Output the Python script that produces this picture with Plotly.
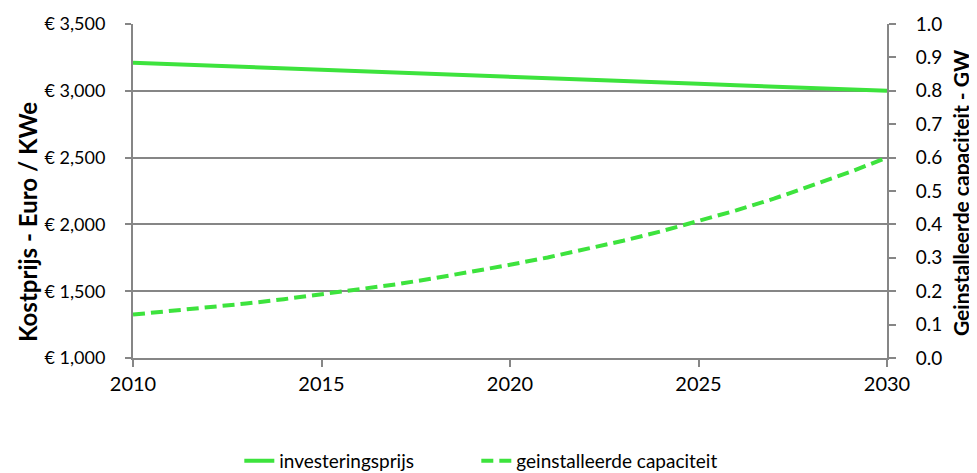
import plotly.graph_objects as go

years = list(range(2010, 2031))
investeringsprijs = [3210, 3199, 3189, 3178, 3168, 3157, 3147, 3136, 3126, 3115,
                     3105, 3094, 3084, 3073, 3063, 3052, 3042, 3031, 3021, 3010, 3000]
capaciteit = [0.13, 0.14, 0.151, 0.163, 0.176, 0.19, 0.205, 0.221, 0.239, 0.258,
              0.279, 0.301, 0.325, 0.351, 0.379, 0.41, 0.442, 0.477, 0.515, 0.556, 0.6]

GREEN = "#3DE33D"
GRAY = "#868686"
FONT = "Lato"

# page body has an 8px margin; plot area target: x 133..887, y 24..358 (page px)
W, H = 969, 465
L, R, T, B = 125, 90, 16, 115
PW = W - L - R
PH = H - T - B

fig = go.Figure()
fig.add_trace(go.Scatter(x=years, y=investeringsprijs, name="investeringsprijs",
                         mode="lines", line=dict(color=GREEN, width=4), yaxis="y",
                         legend="legend"))
fig.add_trace(go.Scatter(x=years, y=capaciteit, name="geinstalleerde capaciteit",
                         mode="lines", line=dict(color=GREEN, width=4, dash="12px,6px"),
                         yaxis="y2", legend="legend2"))

leg_common = dict(orientation="h", xanchor="left", yref="container",
                  y=(H - 453) / H, yanchor="middle",
                  font=dict(size=19, family=FONT), bgcolor="rgba(0,0,0,0)")

fig.update_layout(
    width=W, height=H,
    margin=dict(l=L, r=R, t=T, b=B),
    paper_bgcolor="white", plot_bgcolor="white",
    font=dict(family=FONT, color="#000000"),
    showlegend=True,
    hovermode=False,
    legend=dict(x=0.141, **leg_common),
    legend2=dict(x=0.141 + 237 / PW, **leg_common),
    xaxis=dict(range=[2010, 2030], dtick=5, tick0=2010, showgrid=False,
               showline=True, linecolor=GRAY, linewidth=2, automargin=False,
               ticks="outside", ticklen=7, tickcolor=GRAY, tickwidth=2,
               tickfont=dict(size=20, family=FONT), zeroline=False),
    yaxis=dict(range=[1000, 3500], dtick=500, tick0=1000, tickprefix="€ ",
               tickformat=",", showgrid=True, gridcolor=GRAY, gridwidth=1.5,
               showline=True, linecolor=GRAY, linewidth=2, automargin=False,
               ticks="outside", ticklen=6, tickcolor=GRAY, tickwidth=2,
               ticklabelstandoff=16,
               tickfont=dict(size=18, family=FONT), zeroline=False),
    yaxis2=dict(range=[0, 1], dtick=0.1, tick0=0, tickformat=".1f",
                overlaying="y", side="right", showgrid=False,
                showline=True, linecolor=GRAY, linewidth=2, automargin=False,
                ticks="outside", ticklen=7, tickcolor=GRAY, tickwidth=2,
                ticklabelstandoff=16,
                tickfont=dict(size=19, family=FONT), zeroline=False),
    annotations=[
        dict(text="<b>Kostprijs - Euro / KWe</b>", textangle=-90,
             xref="paper", yref="paper", x=(27 - 133) / PW, y=(358 - 222) / PH,
             xanchor="center", yanchor="middle", showarrow=False,
             font=dict(size=24, family=FONT)),
        dict(text="<b>Geinstalleerde capaciteit - GW</b>", textangle=-90,
             xref="paper", yref="paper", x=(961 - 133) / PW, y=(358 - 193) / PH,
             xanchor="center", yanchor="middle", showarrow=False,
             font=dict(size=21, family=FONT)),
    ],
)

fig.write_html("out.html")
